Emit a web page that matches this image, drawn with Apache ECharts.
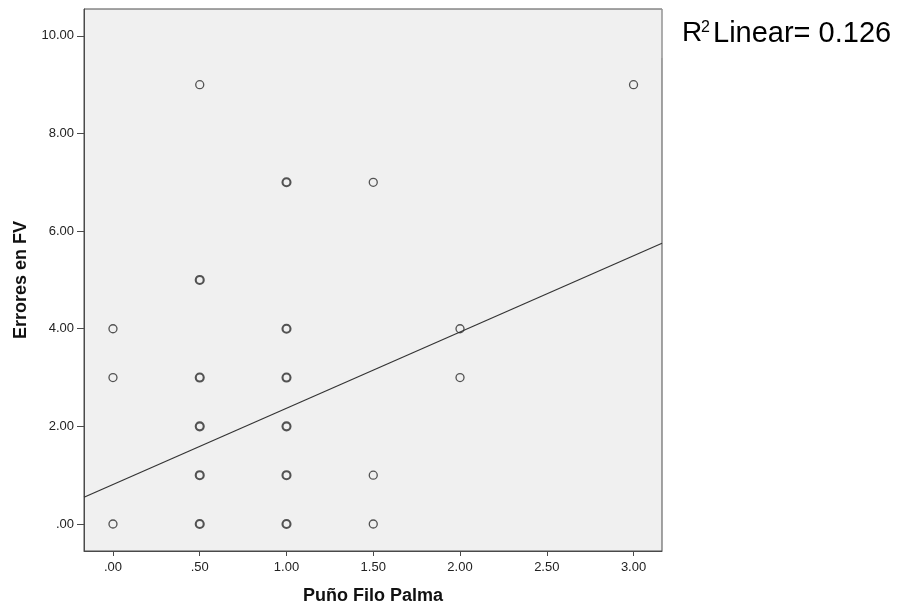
<!DOCTYPE html>
<html>
<head>
<meta charset="utf-8">
<script src="https://cdn.jsdelivr.net/npm/echarts@6/dist/echarts.min.js"></script>
<style>
  html, body { margin: 0; padding: 0; background: #ffffff; }
  #chart { width: 907px; height: 609px; }
</style>
</head>
<body>
<div id="chart"></div>
<script>
// Observations: Puño Filo Palma (x) vs Errores en FV (y); count > 1 marks stacked cases
const pointX = [0, 0, 0, 0.5, 0.5, 0.5, 0.5, 0.5, 0.5, 1, 1, 1, 1, 1, 1, 1.5, 1.5, 1.5, 2, 2, 3];
const pointY = [0, 3, 4, 0, 1, 2, 3, 5, 9, 0, 1, 2, 3, 4, 7, 0, 1, 7, 3, 4, 9];
const pointCount = [1, 1, 1, 2, 2, 2, 2, 2, 1, 2, 2, 2, 2, 2, 2, 1, 1, 1, 1, 1, 1];

// Linear fit line, end points at the axis limits
const fitX = [-0.167, 3.164];
const fitY = [0.547, 5.75];

// Axis tick values
const xTicks = [0, 0.5, 1, 1.5, 2, 2.5, 3];
const yTicks = [0, 2, 4, 6, 8, 10];

const xLimits = [-0.167, 3.164];
const yLimits = [-0.553, 10.55];

const FONT = '"Liberation Sans", Arial, sans-serif';

// SPSS-style decimals: ".50" rather than "0.50"
function spssFmt(v) {
  const s = Number(v).toFixed(2);
  return s.startsWith('0.') ? s.slice(1) : s;
}

const scatterData = pointX.map((x, i) => ({
  value: [x, pointY[i]],
  itemStyle: { borderWidth: pointCount[i] > 1 ? 2.1 : 1.3 }
}));

const chart = echarts.init(document.getElementById('chart'), null, { renderer: 'canvas' });

chart.setOption({
  animation: false,
  backgroundColor: '#ffffff',
  grid: {
    left: 84, top: 9, right: 245, bottom: 58,
    outerBoundsMode: 'none',
    containLabel: false,
    show: true,
    backgroundColor: '#f0f0f0',
    borderColor: '#4a4a4a',
    borderWidth: 1
  },
  xAxis: {
    type: 'value',
    min: xLimits[0], max: xLimits[1],
    name: 'Puño Filo Palma',
    nameLocation: 'middle',
    nameGap: 36,
    nameTextStyle: { fontFamily: FONT, fontWeight: 'bold', fontSize: 18, color: '#111' },
    axisLine: { show: true, onZero: false, lineStyle: { color: '#4a4a4a', width: 1 } },
    axisTick: { show: true, length: 5, customValues: xTicks, lineStyle: { color: '#4a4a4a' } },
    axisLabel: {
      customValues: xTicks, margin: 10,
      fontFamily: FONT, fontSize: 13, color: '#222',
      formatter: spssFmt
    },
    splitLine: { show: false }
  },
  yAxis: {
    type: 'value',
    min: yLimits[0], max: yLimits[1],
    name: 'Errores en FV',
    nameLocation: 'middle',
    nameGap: 54,
    nameRotate: 90,
    nameTextStyle: { fontFamily: FONT, fontWeight: 'bold', fontSize: 18, color: '#111' },
    axisLine: { show: true, onZero: false, lineStyle: { color: '#4a4a4a', width: 1 } },
    axisTick: { show: true, length: 7, customValues: yTicks, lineStyle: { color: '#4a4a4a' } },
    axisLabel: {
      customValues: yTicks, margin: 10,
      fontFamily: FONT, fontSize: 13, color: '#222',
      formatter: spssFmt
    },
    splitLine: { show: false }
  },
  series: [
    {
      type: 'line',
      data: fitX.map((x, i) => [x, fitY[i]]),
      showSymbol: false,
      symbol: 'none',
      lineStyle: { color: '#333333', width: 1.2 },
      silent: true,
      z: 2
    },
    {
      type: 'scatter',
      data: scatterData,
      symbol: 'circle',
      symbolSize: 8,
      itemStyle: { color: 'rgba(0,0,0,0)', borderColor: '#2a2a2a' },
      z: 3
    }
  ],
  graphic: [
    // lighter segment of the right frame next to the annotation
    {
      type: 'line',
      shape: { x1: 662, y1: 9, x2: 662, y2: 58 },
      style: { stroke: '#b8b8b8', lineWidth: 1 },
      z: 100
    },
    {
      type: 'text', left: 682, top: 19,
      style: { text: 'R', font: '28px "Liberation Sans", Arial, sans-serif', fill: '#000' },
      z: 100
    },
    {
      type: 'text', left: 701, top: 20,
      style: { text: '2', font: '16px "Liberation Sans", Arial, sans-serif', fill: '#000' },
      z: 100
    },
    {
      type: 'text', left: 713, top: 19,
      style: { text: 'Linear= 0.126', font: '29px "Liberation Sans", Arial, sans-serif', fill: '#000' },
      z: 100
    }
  ]
});
</script>
</body>
</html>
